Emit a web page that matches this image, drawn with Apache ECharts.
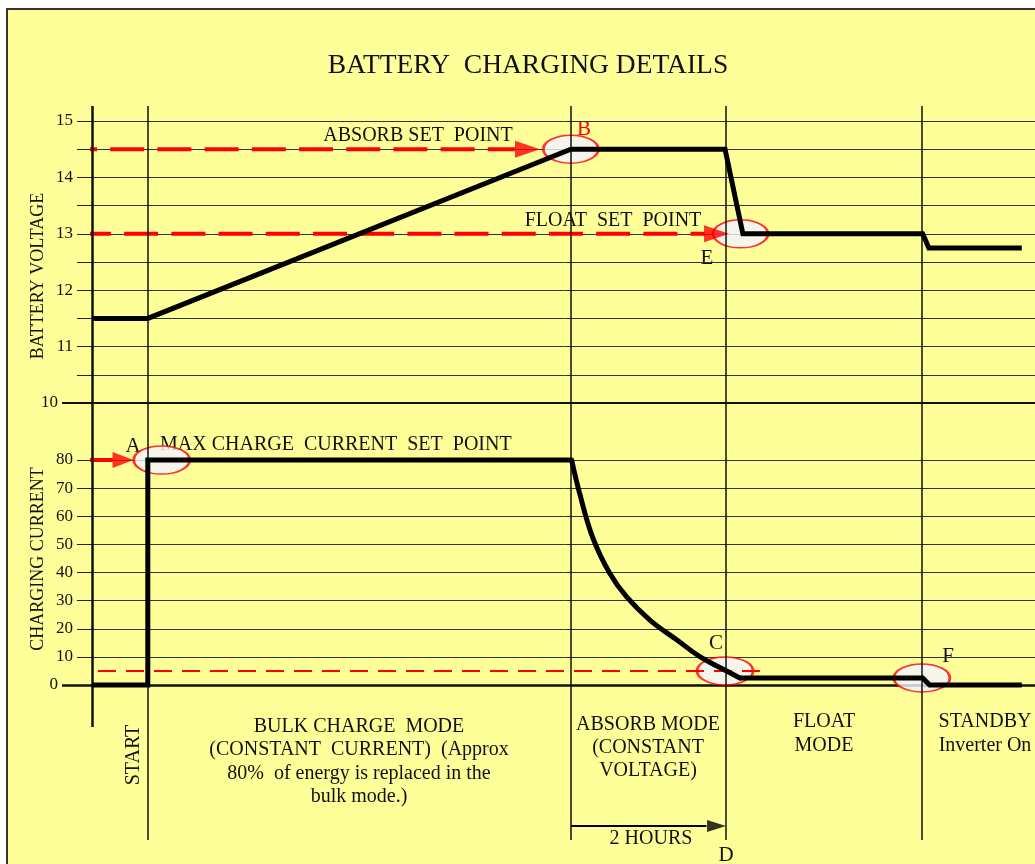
<!DOCTYPE html>
<html>
<head>
<meta charset="utf-8">
<script src="https://cdn.jsdelivr.net/npm/echarts@6/dist/echarts.min.js"></script>
<style>
html,body{margin:0;padding:0;background:#fff;}
body{width:1035px;height:864px;overflow:hidden;position:relative;}
#frame{position:absolute;left:6px;top:8px;width:1100px;height:900px;background:#FFFF99;border-left:2px solid #333;border-top:2px solid #333;}
#chart{position:absolute;left:0;top:0;width:1035px;height:864px;}
</style>
</head>
<body>
<div id="frame"></div>
<div id="chart"></div>
<script>
// ---------- data (time in hours, voltage in V, current in A) ----------
const X_MAX = 12.17;
const phaseStarts = [0.72, 6.18, 8.18, 10.71];          // START | BULK | ABSORB | FLOAT | STANDBY
const voltageTime  = [0, 0.72, 6.18, 8.17, 8.40, 10.72, 10.80, 12.0];
const voltageValue = [11.5, 11.5, 14.5, 14.5, 13.0, 13.0, 12.75, 12.75];
const currentTime  = [0, 0.72, 0.72, 6.19, 6.29, 6.46, 6.68, 6.90, 7.20, 7.55, 7.85, 8.19, 8.36, 10.72, 10.81, 12.0];
const currentValue = [0, 0, 80, 80, 68.5, 52.6, 39.8, 31.3, 23.1, 16.0, 10.0, 5.0, 2.5, 2.5, 0, 0];
const DECAY_FROM = 3;   // index where the absorb-stage decay starts
const DECAY_TO = 12;    // index where the float-stage current begins
const ABSORB_V = 14.5;
const FLOAT_V = 13.0;
const MAX_I = 80;
const TAIL_I = 5;
const voltageTicks = [10, 11, 12, 13, 14, 15];
const currentTicks = [0, 10, 20, 30, 40, 50, 60, 70, 80];
const absorbArrow = [-0.374, 5.46, 5.62];   // dash start, dash end, head centre
const floatArrow  = [-0.194, 7.91, 8.06];
const maxIArrow   = [-0.194, 0.27, 0.40];
const tailLine    = [-0.284, 8.62];
const hoursArrow  = [6.18, 7.93, 8.06];
const voltageRings = [[6.18, 14.5], [8.37, 13.0]];           // B, E
const currentRings = [[0.90, 80], [8.17, 5], [10.71, 2.5]];  // A, C, F

const FONT = '"Liberation Serif","Times New Roman",serif';
const INK = '#111';
const RED = '#FF0000';

function zip(xs, ys) { return xs.map((x, i) => [x, ys[i]]); }
const currentPts = zip(currentTime, currentValue);

const chart = echarts.init(document.getElementById('chart'), null, {renderer: 'canvas'});

const xBase = (gi, show, w) => ({
  type: 'value', gridIndex: gi, min: 0, max: X_MAX, show: show,
  axisLabel: {show: false}, axisTick: {show: false}, splitLine: {show: false},
  axisLine: {show: true, onZero: false, lineStyle: {color: INK, width: w}}
});

const labelStyle = {color: INK, fontFamily: FONT, fontSize: 17};
const gridBase = {left: 92, right: 0, containLabel: false, outerBoundsMode: 'none'};
const blackLine = {color: '#000', width: 5, join: 'miter'};

const option = {
  backgroundColor: 'transparent',
  animation: false,
  grid: [
    Object.assign({top: 121, height: 282}, gridBase),
    Object.assign({top: 460, height: 225}, gridBase),
    Object.assign({top: 106, height: 734}, gridBase)
  ],
  xAxis: [xBase(0, true, 2), xBase(1, true, 2.5), xBase(2, false, 1)],
  yAxis: [
    {type: 'value', gridIndex: 0, position: 'left', min: 10, max: 15, interval: 0.5,
     axisLine: {show: false},
     axisTick: {show: true, length: 15, lineStyle: {color: '#222', width: 1}},
     axisLabel: Object.assign({customValues: voltageTicks.slice(1), margin: 19}, labelStyle),
     splitLine: {show: true, lineStyle: {color: '#333', width: 1}}},
    {type: 'value', gridIndex: 0, position: 'left', offset: 0, min: 10, max: 15,
     axisLine: {show: false},
     axisTick: {show: true, customValues: [voltageTicks[0]], length: 30, lineStyle: {color: INK, width: 2}},
     axisLabel: Object.assign({customValues: [voltageTicks[0]], margin: 34}, labelStyle),
     splitLine: {show: false}},
    {type: 'value', gridIndex: 1, position: 'left', min: 0, max: 80, interval: 10,
     axisLine: {show: false},
     axisTick: {show: true, length: 15, lineStyle: {color: '#222', width: 1}},
     axisLabel: Object.assign({customValues: currentTicks.slice(1), margin: 19}, labelStyle),
     splitLine: {show: true, lineStyle: {color: '#333', width: 1}}},
    {type: 'value', gridIndex: 1, position: 'left', offset: 0, min: 0, max: 80,
     axisLine: {show: false},
     axisTick: {show: true, customValues: [currentTicks[0]], length: 30, lineStyle: {color: INK, width: 2.5}},
     axisLabel: Object.assign({customValues: [currentTicks[0]], margin: 34}, labelStyle),
     splitLine: {show: false}},
    {type: 'value', gridIndex: 2, min: 0, max: 1, show: false}
  ],
  series: [
    // phase separators + left axis line (full-height grid)
    {type: 'line', xAxisIndex: 2, yAxisIndex: 4, data: [], z: 1, silent: true,
     markLine: {
       silent: true, symbol: 'none', animation: false,
       label: {show: false},
       lineStyle: {color: INK, width: 1.5, type: 'solid'},
       data: phaseStarts.map(v => ({xAxis: v})).concat([
         [{coord: [0, 0.154], lineStyle: {color: INK, width: 2.5, type: 'solid'}}, {coord: [0, 1]}]
       ])
     }},
    // 2 hours arrow
    {type: 'line', xAxisIndex: 2, yAxisIndex: 4, z: 4, symbol: 'none', clip: false, silent: true,
     lineStyle: {color: '#000', width: 2},
     data: [[hoursArrow[0], 0.019], [hoursArrow[1], 0.019]]},
    {type: 'scatter', xAxisIndex: 2, yAxisIndex: 4, z: 4, clip: false, silent: true,
     symbol: 'triangle', symbolRotate: -90, symbolSize: [12, 19],
     itemStyle: {color: '#000'},
     data: [[hoursArrow[2], 0.019]]},

    // rings
    {type: 'scatter', xAxisIndex: 0, yAxisIndex: 0, z: 2, silent: true, clip: false,
     symbol: 'circle', symbolSize: [55, 28],
     itemStyle: {color: '#F3F3FF', borderColor: RED, borderWidth: 2},
     data: voltageRings},
    {type: 'scatter', xAxisIndex: 1, yAxisIndex: 2, z: 2, silent: true, clip: false,
     symbol: 'circle', symbolSize: [56, 28],
     itemStyle: {color: '#F3F3FF', borderColor: RED, borderWidth: 2},
     data: currentRings},

    // red set-point dashes
    {type: 'line', xAxisIndex: 0, yAxisIndex: 0, z: 3, symbol: 'none', clip: false, silent: true,
     lineStyle: {color: RED, width: 4, type: [34, 13.2], cap: 'butt'},
     data: [[absorbArrow[0], ABSORB_V], [absorbArrow[1], ABSORB_V]]},
    {type: 'line', xAxisIndex: 0, yAxisIndex: 0, z: 3, symbol: 'none', clip: false, silent: true,
     lineStyle: {color: RED, width: 4, type: [34, 13.2], cap: 'butt'},
     data: [[floatArrow[0], FLOAT_V], [floatArrow[1], FLOAT_V]]},
    {type: 'scatter', xAxisIndex: 0, yAxisIndex: 0, z: 3, clip: false, silent: true,
     symbol: 'triangle', symbolRotate: -90, symbolSize: [17, 25],
     itemStyle: {color: RED},
     data: [[absorbArrow[2], ABSORB_V], [floatArrow[2], FLOAT_V]]},
    {type: 'line', xAxisIndex: 1, yAxisIndex: 2, z: 3, symbol: 'none', clip: false, silent: true,
     lineStyle: {color: RED, width: 2, type: [18, 10]},
     data: [[tailLine[0], TAIL_I], [tailLine[1], TAIL_I]]},
    {type: 'line', xAxisIndex: 1, yAxisIndex: 2, z: 3, symbol: 'none', clip: false, silent: true,
     lineStyle: {color: RED, width: 4},
     data: [[maxIArrow[0], MAX_I], [maxIArrow[1], MAX_I]]},
    {type: 'scatter', xAxisIndex: 1, yAxisIndex: 2, z: 3, clip: false, silent: true,
     symbol: 'triangle', symbolRotate: -90, symbolSize: [16, 21],
     itemStyle: {color: RED},
     data: [[maxIArrow[2], MAX_I]]},

    // battery voltage
    {name: 'Battery voltage', type: 'line', xAxisIndex: 0, yAxisIndex: 0, z: 5, symbol: 'none', clip: false, silent: true,
     lineStyle: blackLine,
     data: zip(voltageTime, voltageValue)},
    // charging current: bulk step, absorb decay (smooth), float/standby tail
    {name: 'Charging current', type: 'line', xAxisIndex: 1, yAxisIndex: 2, z: 5, symbol: 'none', clip: false, silent: true,
     lineStyle: blackLine,
     data: currentPts.slice(0, DECAY_FROM + 1)},
    {name: 'Charging current', type: 'line', xAxisIndex: 1, yAxisIndex: 2, z: 5, symbol: 'none', clip: false, silent: true,
     smooth: 0.4,
     lineStyle: Object.assign({}, blackLine, {cap: 'round', join: 'round'}),
     data: currentPts.slice(DECAY_FROM, DECAY_TO + 1)},
    {name: 'Charging current', type: 'line', xAxisIndex: 1, yAxisIndex: 2, z: 5, symbol: 'none', clip: false, silent: true,
     lineStyle: blackLine,
     data: currentPts.slice(DECAY_TO)}
  ],
  graphic: [
    {type: 'text', x: 528, y: 66, style: {text: 'BATTERY  CHARGING DETAILS', fill: INK, font: '27.5px ' + FONT, textAlign: 'center', textVerticalAlign: 'middle'}},
    {type: 'text', x: 418, y: 136, style: {text: 'ABSORB SET  POINT', fill: INK, font: '20px ' + FONT, textAlign: 'center', textVerticalAlign: 'middle'}},
    {type: 'text', x: 613, y: 221, style: {text: 'FLOAT  SET  POINT', fill: INK, font: '20px ' + FONT, textAlign: 'center', textVerticalAlign: 'middle'}},
    {type: 'text', x: 160, y: 445, style: {text: 'MAX CHARGE  CURRENT  SET  POINT', fill: INK, font: '20px ' + FONT, textAlign: 'left', textVerticalAlign: 'middle'}},
    {type: 'text', x: 38, y: 276, rotation: Math.PI / 2, style: {text: 'BATTERY VOLTAGE', fill: INK, font: '18px ' + FONT, textAlign: 'center', textVerticalAlign: 'middle'}},
    {type: 'text', x: 38, y: 559, rotation: Math.PI / 2, style: {text: 'CHARGING CURRENT', fill: INK, font: '18px ' + FONT, textAlign: 'center', textVerticalAlign: 'middle'}},
    {type: 'text', x: 133, y: 446, style: {text: 'A', fill: INK, font: '21px ' + FONT, textAlign: 'center', textVerticalAlign: 'middle'}},
    {type: 'text', x: 584, y: 129, style: {text: 'B', fill: RED, font: '21px ' + FONT, textAlign: 'center', textVerticalAlign: 'middle'}},
    {type: 'text', x: 716, y: 643, style: {text: 'C', fill: INK, font: '21px ' + FONT, textAlign: 'center', textVerticalAlign: 'middle'}},
    {type: 'text', x: 726, y: 855, style: {text: 'D', fill: INK, font: '21px ' + FONT, textAlign: 'center', textVerticalAlign: 'middle'}},
    {type: 'text', x: 707, y: 258, style: {text: 'E', fill: INK, font: '21px ' + FONT, textAlign: 'center', textVerticalAlign: 'middle'}},
    {type: 'text', x: 948, y: 656, style: {text: 'F', fill: INK, font: '21px ' + FONT, textAlign: 'center', textVerticalAlign: 'middle'}},
    {type: 'text', x: 134, y: 755, rotation: Math.PI / 2, style: {text: 'START', fill: INK, font: '20px ' + FONT, textAlign: 'center', textVerticalAlign: 'middle'}},
    {type: 'text', x: 359, y: 715, style: {text: 'BULK CHARGE  MODE\n(CONSTANT  CURRENT)  (Approx\n80%  of energy is replaced in the\nbulk mode.)', fill: INK, font: '20px ' + FONT, lineHeight: 23.4, textAlign: 'center', textVerticalAlign: 'top'}},
    {type: 'text', x: 648, y: 713, style: {text: 'ABSORB MODE\n(CONSTANT\nVOLTAGE)', fill: INK, font: '20px ' + FONT, lineHeight: 23.2, textAlign: 'center', textVerticalAlign: 'top'}},
    {type: 'text', x: 824, y: 710, style: {text: 'FLOAT\nMODE', fill: INK, font: '20px ' + FONT, lineHeight: 23.5, textAlign: 'center', textVerticalAlign: 'top'}},
    {type: 'text', x: 985, y: 710, style: {text: 'STANDBY\nInverter On', fill: INK, font: '20px ' + FONT, lineHeight: 23.5, textAlign: 'center', textVerticalAlign: 'top'}},
    {type: 'text', x: 651, y: 839, style: {text: '2 HOURS', fill: INK, font: '20px ' + FONT, textAlign: 'center', textVerticalAlign: 'middle'}}
  ]
};
chart.setOption(option);
</script>
</body>
</html>
